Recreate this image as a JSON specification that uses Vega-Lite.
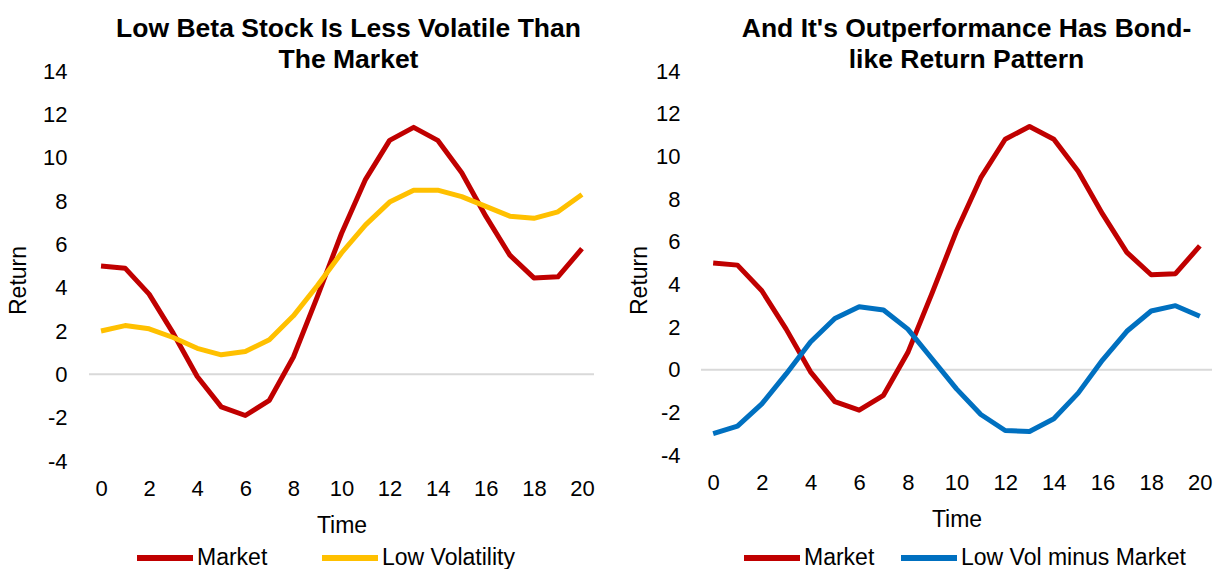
{
  "$schema": "https://vega.github.io/schema/vega-lite/v6.json",
  "padding": {"left": 7, "top": 15, "right": 0, "bottom": 0},
  "background": "white",
  "config": {
    "view": {"stroke": null},
    "font": "Liberation Sans",
    "axis": {"grid": false, "domain": false, "ticks": false, "labelFont": "Liberation Sans", "labelFontSize": 22, "labelColor": "#000000", "titleFont": "Liberation Sans", "titleFontSize": 23, "titleFontWeight": "normal", "titleColor": "#000000", "labelExpr": "'' + datum.value"},
    "axisX": {"labelPadding": 17, "titlePadding": 15},
    "legend": {"orient": "none", "direction": "horizontal", "title": null, "symbolType": "stroke", "symbolSize": 3136, "symbolStrokeWidth": 6, "labelFont": "Liberation Sans", "labelFontSize": 23, "labelColor": "#000000", "labelOffset": 1, "labelLimit": 400, "legendY": 456},
    "title": {"font": "Liberation Sans", "fontSize": 26.5, "fontWeight": "bold", "color": "#000000", "anchor": "middle", "frame": "group", "lineHeight": 31, "offset": -13}
  },
  "datasets": {
    "left": [
      {"t": 0, "s": "Market", "v": 5.0}, {"t": 1, "s": "Market", "v": 4.9}, {"t": 2, "s": "Market", "v": 3.7}, {"t": 3, "s": "Market", "v": 1.9}, {"t": 4, "s": "Market", "v": -0.1}, {"t": 5, "s": "Market", "v": -1.5}, {"t": 6, "s": "Market", "v": -1.9}, {"t": 7, "s": "Market", "v": -1.2}, {"t": 8, "s": "Market", "v": 0.8}, {"t": 9, "s": "Market", "v": 3.6}, {"t": 10, "s": "Market", "v": 6.5}, {"t": 11, "s": "Market", "v": 9.0}, {"t": 12, "s": "Market", "v": 10.8}, {"t": 13, "s": "Market", "v": 11.4}, {"t": 14, "s": "Market", "v": 10.8}, {"t": 15, "s": "Market", "v": 9.3}, {"t": 16, "s": "Market", "v": 7.3}, {"t": 17, "s": "Market", "v": 5.5}, {"t": 18, "s": "Market", "v": 4.45}, {"t": 19, "s": "Market", "v": 4.5}, {"t": 20, "s": "Market", "v": 5.8},
      {"t": 0, "s": "Low Volatility", "v": 2.0}, {"t": 1, "s": "Low Volatility", "v": 2.25}, {"t": 2, "s": "Low Volatility", "v": 2.1}, {"t": 3, "s": "Low Volatility", "v": 1.7}, {"t": 4, "s": "Low Volatility", "v": 1.2}, {"t": 5, "s": "Low Volatility", "v": 0.9}, {"t": 6, "s": "Low Volatility", "v": 1.05}, {"t": 7, "s": "Low Volatility", "v": 1.6}, {"t": 8, "s": "Low Volatility", "v": 2.7}, {"t": 9, "s": "Low Volatility", "v": 4.1}, {"t": 10, "s": "Low Volatility", "v": 5.6}, {"t": 11, "s": "Low Volatility", "v": 6.9}, {"t": 12, "s": "Low Volatility", "v": 7.95}, {"t": 13, "s": "Low Volatility", "v": 8.5}, {"t": 14, "s": "Low Volatility", "v": 8.5}, {"t": 15, "s": "Low Volatility", "v": 8.2}, {"t": 16, "s": "Low Volatility", "v": 7.75}, {"t": 17, "s": "Low Volatility", "v": 7.3}, {"t": 18, "s": "Low Volatility", "v": 7.2}, {"t": 19, "s": "Low Volatility", "v": 7.5}, {"t": 20, "s": "Low Volatility", "v": 8.3}
    ],
    "right": [
      {"t": 0, "s": "Market", "v": 5.0}, {"t": 1, "s": "Market", "v": 4.9}, {"t": 2, "s": "Market", "v": 3.7}, {"t": 3, "s": "Market", "v": 1.9}, {"t": 4, "s": "Market", "v": -0.1}, {"t": 5, "s": "Market", "v": -1.5}, {"t": 6, "s": "Market", "v": -1.9}, {"t": 7, "s": "Market", "v": -1.2}, {"t": 8, "s": "Market", "v": 0.8}, {"t": 9, "s": "Market", "v": 3.6}, {"t": 10, "s": "Market", "v": 6.5}, {"t": 11, "s": "Market", "v": 9.0}, {"t": 12, "s": "Market", "v": 10.8}, {"t": 13, "s": "Market", "v": 11.4}, {"t": 14, "s": "Market", "v": 10.8}, {"t": 15, "s": "Market", "v": 9.3}, {"t": 16, "s": "Market", "v": 7.3}, {"t": 17, "s": "Market", "v": 5.5}, {"t": 18, "s": "Market", "v": 4.45}, {"t": 19, "s": "Market", "v": 4.5}, {"t": 20, "s": "Market", "v": 5.8},
      {"t": 0, "s": "Low Vol minus Market", "v": -3.0}, {"t": 1, "s": "Low Vol minus Market", "v": -2.65}, {"t": 2, "s": "Low Vol minus Market", "v": -1.6}, {"t": 3, "s": "Low Vol minus Market", "v": -0.2}, {"t": 4, "s": "Low Vol minus Market", "v": 1.3}, {"t": 5, "s": "Low Vol minus Market", "v": 2.4}, {"t": 6, "s": "Low Vol minus Market", "v": 2.95}, {"t": 7, "s": "Low Vol minus Market", "v": 2.8}, {"t": 8, "s": "Low Vol minus Market", "v": 1.9}, {"t": 9, "s": "Low Vol minus Market", "v": 0.5}, {"t": 10, "s": "Low Vol minus Market", "v": -0.9}, {"t": 11, "s": "Low Vol minus Market", "v": -2.1}, {"t": 12, "s": "Low Vol minus Market", "v": -2.85}, {"t": 13, "s": "Low Vol minus Market", "v": -2.9}, {"t": 14, "s": "Low Vol minus Market", "v": -2.3}, {"t": 15, "s": "Low Vol minus Market", "v": -1.1}, {"t": 16, "s": "Low Vol minus Market", "v": 0.45}, {"t": 17, "s": "Low Vol minus Market", "v": 1.8}, {"t": 18, "s": "Low Vol minus Market", "v": 2.75}, {"t": 19, "s": "Low Vol minus Market", "v": 3.0}, {"t": 20, "s": "Low Vol minus Market", "v": 2.5}
    ],
    "zero": [{"y": 0}]
  },
  "spacing": 33,
  "resolve": {"scale": {"color": "independent"}},
  "hconcat": [
    {
      "width": 505,
      "height": 390,
      "title": {"text": ["Low Beta Stock Is Less Volatile Than", "The Market"], "dx": 7},
      "layer": [
        {
          "data": {"name": "zero"},
          "mark": {"type": "rule", "color": "#D9D9D9", "strokeWidth": 2},
          "encoding": {"y": {"field": "y", "type": "quantitative", "scale": {"domain": [-4, 14], "nice": false}}}
        },
        {
          "data": {"name": "left"},
          "mark": {"type": "line", "strokeWidth": 5, "strokeJoin": "round"},
          "encoding": {
            "x": {"field": "t", "type": "quantitative", "scale": {"domain": [-0.5, 20.5], "nice": false}, "axis": {"values": [0, 2, 4, 6, 8, 10, 12, 14, 16, 18, 20], "title": "Time"}},
            "y": {"field": "v", "type": "quantitative", "scale": {"domain": [-4, 14], "nice": false}, "axis": {"values": [-4, -2, 0, 2, 4, 6, 8, 10, 12, 14], "title": "Return", "labelPadding": 22, "titlePadding": 12, "titleY": 209}},
            "color": {"field": "s", "type": "nominal", "scale": {"domain": ["Market", "Low Volatility"], "range": ["#C00000", "#FFC000"]}, "sort": ["Market", "Low Volatility"], "legend": {"legendX": 45, "columnPadding": 42}}
          }
        }
      ]
    },
    {
      "width": 511,
      "height": 384,
      "title": {"text": ["And It's Outperformance Has Bond-", "like Return Pattern"], "dx": 10},
      "layer": [
        {
          "data": {"name": "zero"},
          "mark": {"type": "rule", "color": "#D9D9D9", "strokeWidth": 2},
          "encoding": {"y": {"field": "y", "type": "quantitative", "scale": {"domain": [-4, 14], "nice": false}}}
        },
        {
          "data": {"name": "right"},
          "mark": {"type": "line", "strokeWidth": 5, "strokeJoin": "round"},
          "encoding": {
            "x": {"field": "t", "type": "quantitative", "scale": {"domain": [-0.5, 20.5], "nice": false}, "axis": {"values": [0, 2, 4, 6, 8, 10, 12, 14, 16, 18, 20], "title": "Time"}},
            "y": {"field": "v", "type": "quantitative", "scale": {"domain": [-4, 14], "nice": false}, "axis": {"values": [-4, -2, 0, 2, 4, 6, 8, 10, 12, 14], "title": "Return", "labelPadding": 21, "titlePadding": 4, "titleY": 209}},
            "color": {"field": "s", "type": "nominal", "scale": {"domain": ["Market", "Low Vol minus Market"], "range": ["#C00000", "#0070C0"]}, "sort": ["Market", "Low Vol minus Market"], "legend": {"legendX": 40, "columnPadding": 14}}
          }
        }
      ]
    }
  ]
}
